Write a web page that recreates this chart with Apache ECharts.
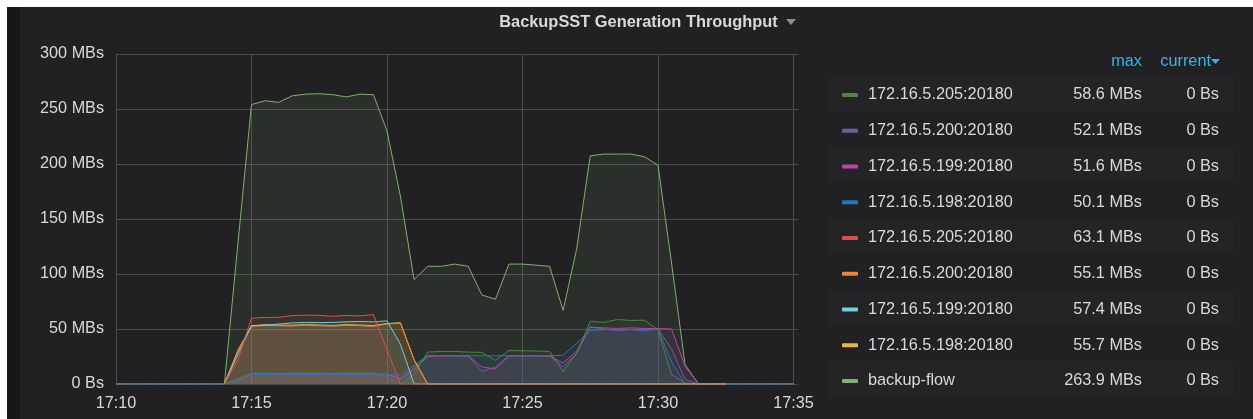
<!DOCTYPE html>
<html>
<head>
<meta charset="utf-8">
<script src="https://cdn.jsdelivr.net/npm/echarts@6/dist/echarts.min.js"></script>
<style>
html, body { margin: 0; padding: 0; background: #fff; }
#main {
  width: 1253px; height: 419px;
  background:
    linear-gradient(#fff, #fff) 0 0 / 100% 7px no-repeat,
    linear-gradient(#fff, #fff) 0 0 / 7px 100% no-repeat,
    linear-gradient(#161719, #161719) 0 0 / 20px 100% no-repeat,
    #212124;
}
</style>
</head>
<body>
<div id="main"></div>
<script>
// samples every 30s starting at 17:10:00
var xLabels = ['17:10', '17:15', '17:20', '17:25', '17:30', '17:35'];
var yLabels = ['0 Bs', '50 MBs', '100 MBs', '150 MBs', '200 MBs', '250 MBs', '300 MBs'];

var backupFlow = [0, 0, 0, 0, 0, 0, 0, 0, 0, 128, 254, 257.5, 256, 262, 263.5, 263.9, 263, 261, 263.5, 263,
  230, 170, 95, 107, 107, 109, 107, 81, 77, 109, 109, 108, 107, 67, 123, 207.5, 209, 209, 209, 206.6,
  199, 110, 17.5, 0, 0, 0, 0, 0, 0, 0, 0];
var green205 = [0, 0, 0, 0, 0, 0, 0, 0, 0, 4.5, 9.7, 9.8, 9.6, 9.9, 10, 9.8, 9.7, 9.9, 10, 9.8,
  6, 0, 9, 29, 29.6, 29.6, 29, 28.7, 21.5, 30.5, 30.2, 30, 29.6, 11.4, 28, 56.9, 56, 58.6, 57.8, 58,
  49.4, 8.5, 0.9, 0, 0, 0, 0, 0, 0, 0, 0];
var purple200 = [0, 0, 0, 0, 0, 0, 0, 0, 0, 3.3, 8.4, 8.6, 8.7, 8.8, 8.9, 8.8, 8.7, 8.9, 9, 8.8,
  8.5, 4, 15, 26, 25.7, 25.7, 25.6, 11.4, 15.5, 25.7, 25.7, 25.7, 25.6, 15.5, 28, 52.1, 50, 48.5, 49.5, 49,
  50, 32, 4, 0, 0, 0, 0, 0, 0, 0, 0];
var magenta199 = [0, 0, 0, 0, 0, 0, 0, 0, 0, 3.5, 8.6, 8.9, 9, 9.1, 9, 9.1, 8.9, 9, 9.2, 9,
  8.8, 5, 13, 25, 25.5, 25.5, 25.5, 15.5, 13.7, 25.5, 25.5, 25.5, 25.5, 19, 30, 51.6, 51, 50.5, 51, 50.5,
  50.3, 50.1, 16, 0, 0, 0, 0, 0, 0, 0, 0];
var blue198 = [0, 0, 0, 0, 0, 0, 0, 0, 0, 3.5, 8.5, 8.8, 8.8, 8.9, 8.8, 8.9, 8.8, 8.8, 8.9, 8.8,
  9, 8, 17, 26, 25.7, 25.7, 25.7, 25.7, 25.7, 25.7, 25.7, 25.7, 25.7, 26.2, 37, 48.5, 49.4, 49.4, 49.5, 48.5,
  50.1, 20, 0, 0, 0, 0, 0, 0, 0, 0, 0];
var red205 = [null, null, null, null, null, null, null, null, 0, 22, 59.8, 60.5, 60.6, 62.2, 62.6, 62.4, 61.6, 62.3, 61.9, 63.1,
  31, 0, 0, 0, 0, 0, 0, 0, 0, 0, 0, 0, 0, 0, 0, 0, 0, 0, 0, 0,
  0, 0, 0, 0, 0, 0, null, null, null, null, null];
var orange200 = [null, null, null, null, null, null, null, null, 0, 31, 52.5, 53.2, 53, 52.8, 53.5, 53, 52.6, 53.4, 53, 52.4,
  54.6, 55.1, 22, 0, 0, 0, 0, 0, 0, 0, 0, 0, 0, 0, 0, 0, 0, 0, 0, 0,
  0, 0, 0, 0, 0, 0, null, null, null, null, null];
var cyan199 = [null, null, null, null, null, null, null, null, 0, 27, 53, 53.5, 54.5, 55.5, 56, 55.8, 56, 56.5, 56.8, 56.5,
  57.4, 36, 0, 0, 0, 0, 0, 0, 0, 0, 0, 0, 0, 0, 0, 0, 0, 0, 0, 0,
  0, 0, 0, 0, 0, 0, null, null, null, null, null];
var yellow198 = [null, null, null, null, null, null, null, null, 0, 30, 53, 53.8, 53.5, 53.4, 54, 53.6, 53.2, 54, 53.6, 53.2,
  55, 55.7, 22, 0, 0, 0, 0, 0, 0, 0, 0, 0, 0, 0, 0, 0, 0, 0, 0, 0,
  0, 0, 0, 0, 0, 0, null, null, null, null, null];

// legend table, top to bottom
var legendKeys = ['g205', 'p200', 'm199', 'b198', 'r205', 'o200', 'c199', 'y198', 'flow'];
var legendNames = ['172.16.5.205:20180', '172.16.5.200:20180', '172.16.5.199:20180', '172.16.5.198:20180',
  '172.16.5.205:20180', '172.16.5.200:20180', '172.16.5.199:20180', '172.16.5.198:20180', 'backup-flow'];
var legendMax = ['58.6 MBs', '52.1 MBs', '51.6 MBs', '50.1 MBs', '63.1 MBs', '55.1 MBs', '57.4 MBs', '55.7 MBs', '263.9 MBs'];
var legendCurrent = ['0 Bs', '0 Bs', '0 Bs', '0 Bs', '0 Bs', '0 Bs', '0 Bs', '0 Bs', '0 Bs'];

var FONT = 'Liberation Sans';
var TXT = '#d8d9da';

function pts(vals) {
  return vals.map(function (v, i) { return [i * 30, v]; });
}
function line(key, color, vals) {
  return {
    name: key, type: 'line', data: pts(vals), showSymbol: false, symbol: 'none',
    connectNulls: false, color: color,
    lineStyle: { width: 1, color: color },
    areaStyle: { color: color, opacity: 0.1 },
    emphasis: { disabled: true }
  };
}

var rowH = 35.75;
var row0 = 93;
var graphics = [];
for (var k = 0; k < legendKeys.length; k += 2) {
  graphics.push({ type: 'rect', z: -1, shape: { x: 827, y: row0 + k * rowH - rowH / 2, width: 406, height: rowH },
    style: { fill: '#242427' } });
}
graphics.push(
  { type: 'text', style: { x: 638.5, y: 22, text: 'BackupSST Generation Throughput', fill: TXT,
      font: 'bold 16.4px ' + FONT, textAlign: 'center', textVerticalAlign: 'middle' } },
  { type: 'polygon', shape: { points: [[786, 19], [796, 19], [791, 25]] }, style: { fill: '#8e8e90' } },
  { type: 'text', style: { x: 1142, y: 62, text: 'max', fill: '#33b5e5',
      font: '16.3px ' + FONT, textAlign: 'right', textVerticalAlign: 'middle' } },
  { type: 'text', style: { x: 1211, y: 62, text: 'current', fill: '#33b5e5',
      font: '16.3px ' + FONT, textAlign: 'right', textVerticalAlign: 'middle' } },
  { type: 'polygon', shape: { points: [[1211, 59], [1220, 59], [1215.5, 64]] }, style: { fill: '#33b5e5' } }
);

var myChart = echarts.init(document.getElementById('main'));
var option = {
  backgroundColor: 'transparent',
  animation: false,
  textStyle: { fontFamily: FONT },
  grid: { left: 116, top: 54, width: 682, height: 330, containLabel: false },
  xAxis: {
    type: 'value', min: 0, max: 1510, interval: 300,
    axisLine: { show: false }, axisTick: { show: false },
    axisLabel: {
      color: TXT, fontSize: 16.2, fontFamily: FONT, margin: 12, showMaxLabel: false,
      formatter: function (v) { return xLabels[Math.round(v / 300)] || ''; }
    },
    splitLine: { show: true, showMaxLine: false, lineStyle: { color: '#4c4c4e', width: 1 } }
  },
  yAxis: {
    type: 'value', min: 0, max: 300, interval: 50,
    axisLine: { show: false }, axisTick: { show: false },
    axisLabel: {
      color: TXT, fontSize: 16.2, fontFamily: FONT, margin: 12,
      formatter: function (v) { return yLabels[Math.round(v / 50)]; }
    },
    splitLine: { show: true, lineStyle: { color: '#4c4c4e', width: 1 } }
  },
  legend: {
    orient: 'vertical', left: 842, top: row0 - rowH / 2 + 2, itemGap: 0, padding: 0,
    itemWidth: 16, itemHeight: 4, icon: 'roundRect', selectedMode: false,
    data: legendKeys,
    formatter: function (name) {
      var i = legendKeys.indexOf(name);
      return '{s| }{n|' + legendNames[i] + '}{m|' + legendMax[i] + '}{c|' + legendCurrent[i] + '}';
    },
    textStyle: {
      color: TXT, fontSize: 16.3, fontFamily: FONT, lineHeight: rowH,
      rich: {
        s: { width: 5, fontSize: 16.3, lineHeight: rowH },
        n: { width: 190, align: 'left', color: TXT, fontSize: 16.3, fontFamily: FONT, lineHeight: rowH },
        m: { width: 84, align: 'right', color: TXT, fontSize: 16.3, fontFamily: FONT, lineHeight: rowH },
        c: { width: 77, align: 'right', color: TXT, fontSize: 16.3, fontFamily: FONT, lineHeight: rowH }
      }
    }
  },
  graphic: graphics,
  series: [
    line('flow', '#7EB26D', backupFlow),
    line('p200', '#705DA0', purple200),
    line('m199', '#BA43A9', magenta199),
    line('b198', '#1F78C1', blue198),
    line('g205', '#508642', green205),
    line('y198', '#EAB839', yellow198),
    line('o200', '#EF843C', orange200),
    line('c199', '#6ED0E0', cyan199),
    line('r205', '#E24D42', red205)
  ]
};
myChart.setOption(option);
</script>
</body>
</html>
